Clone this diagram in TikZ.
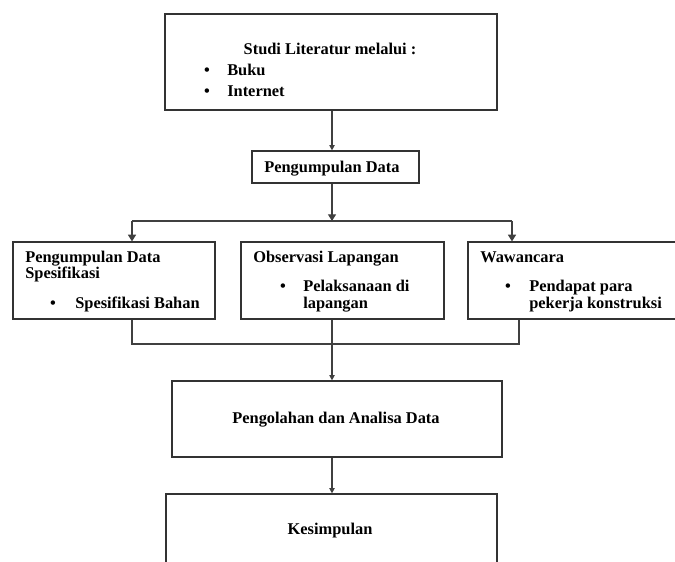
\documentclass[tikz,border=0pt]{standalone}
\usepackage{fontspec}
\setmainfont{Liberation Serif}
\usetikzlibrary{arrows.meta}
\begin{document}
\begin{tikzpicture}[x=0.75pt,y=-0.75pt,
  box/.style={draw=black!80,line width=0.9pt,rectangle,inner sep=0pt},
  lbl/.style={inner sep=0pt,font=\fontsize{12.3}{14}\selectfont\bfseries},
  conn/.style={draw=black!75,line width=0.9pt},
  bigarr/.style={conn,-{Triangle[length=5pt,width=6pt]}},
  smallarr/.style={conn,-{Triangle[length=4pt,width=4pt]}}]
\useasboundingbox (0,0) rectangle (675,561);
\clip (0,0) rectangle (675,561);
% boxes
\node[box,minimum width=332*0.75pt,minimum height=96*0.75pt] (top) at (331,62) {};
\node[box,minimum width=167*0.75pt,minimum height=32*0.75pt] (pd) at (335.5,167) {};
\node[box,minimum width=202*0.75pt,minimum height=77*0.75pt] (left) at (114,280.5) {};
\node[box,minimum width=203*0.75pt,minimum height=77*0.75pt] (mid) at (342.5,280.5) {};
\node[box,minimum width=222*0.75pt,minimum height=77*0.75pt] (right) at (579,280.5) {};
\node[box,minimum width=330*0.75pt,minimum height=76*0.75pt] (pa) at (337,419) {};
\node[box,minimum width=331*0.75pt,minimum height=86*0.75pt] (kes) at (331.5,537) {};
% texts
\node[lbl,anchor=base] (t1) at (330,54) {Studi Literatur melalui :};
\node[lbl,anchor=base] (b1) at (207,75) {\textbullet};
\node[lbl,anchor=base west] (t2) at (227,75) {Buku};
\node[lbl,anchor=base] (b2) at (207,96) {\textbullet};
\node[lbl,anchor=base west] (t3) at (227,96) {Internet};
\node[lbl,anchor=base west] (t4) at (264,172) {Pengumpulan Data};
\node[lbl,anchor=base west] (t5) at (25,262) {Pengumpulan Data};
\node[lbl,anchor=base west] (t6) at (25,278) {Spesifikasi};
\node[lbl,anchor=base] (b3) at (53,308) {\textbullet};
\node[lbl,anchor=base west] (t7) at (75,308) {Spesifikasi Bahan};
\node[lbl,anchor=base west] (t8) at (253,262) {Observasi Lapangan};
\node[lbl,anchor=base] (b4) at (283,291) {\textbullet};
\node[lbl,anchor=base west] (t9) at (303,291) {Pelaksanaan di};
\node[lbl,anchor=base west] (t10) at (303,308) {lapangan};
\node[lbl,anchor=base west] (t11) at (480,262) {Wawancara};
\node[lbl,anchor=base] (b5) at (508,291) {\textbullet};
\node[lbl,anchor=base west] (t12) at (529,291) {Pendapat para};
\node[lbl,anchor=base west] (t13) at (529,308) {pekerja konstruksi};
\node[lbl,anchor=base] (t14) at (336,423) {Pengolahan dan Analisa Data};
\node[lbl,anchor=base] (t15) at (330,534) {Kesimpulan};
% junction coordinates
\coordinate (split) at (332,221);
\coordinate (jl) at (132,221);
\coordinate (jr) at (512,221);
\coordinate (ml) at (132,344);
\coordinate (mm) at (332,344);
\coordinate (mr) at (519,344);
% connectors
\draw[smallarr] (top.south -| split) -- (pd.north -| split);
\draw[bigarr] (pd.south -| split) -- (split);
\draw[conn] (jl) -- (jr);
\draw[bigarr] (jl) -- (left.north -| jl);
\draw[bigarr] (jr) -- (right.north -| jr);
\draw[conn] (left.south -| ml) -- (ml) -- (mr) -- (right.south -| mr);
\draw[smallarr] (mid.south -| mm) -- (pa.north -| mm);
\draw[smallarr] (pa.south -| mm) -- (kes.north -| mm);
\end{tikzpicture}
\end{document}
